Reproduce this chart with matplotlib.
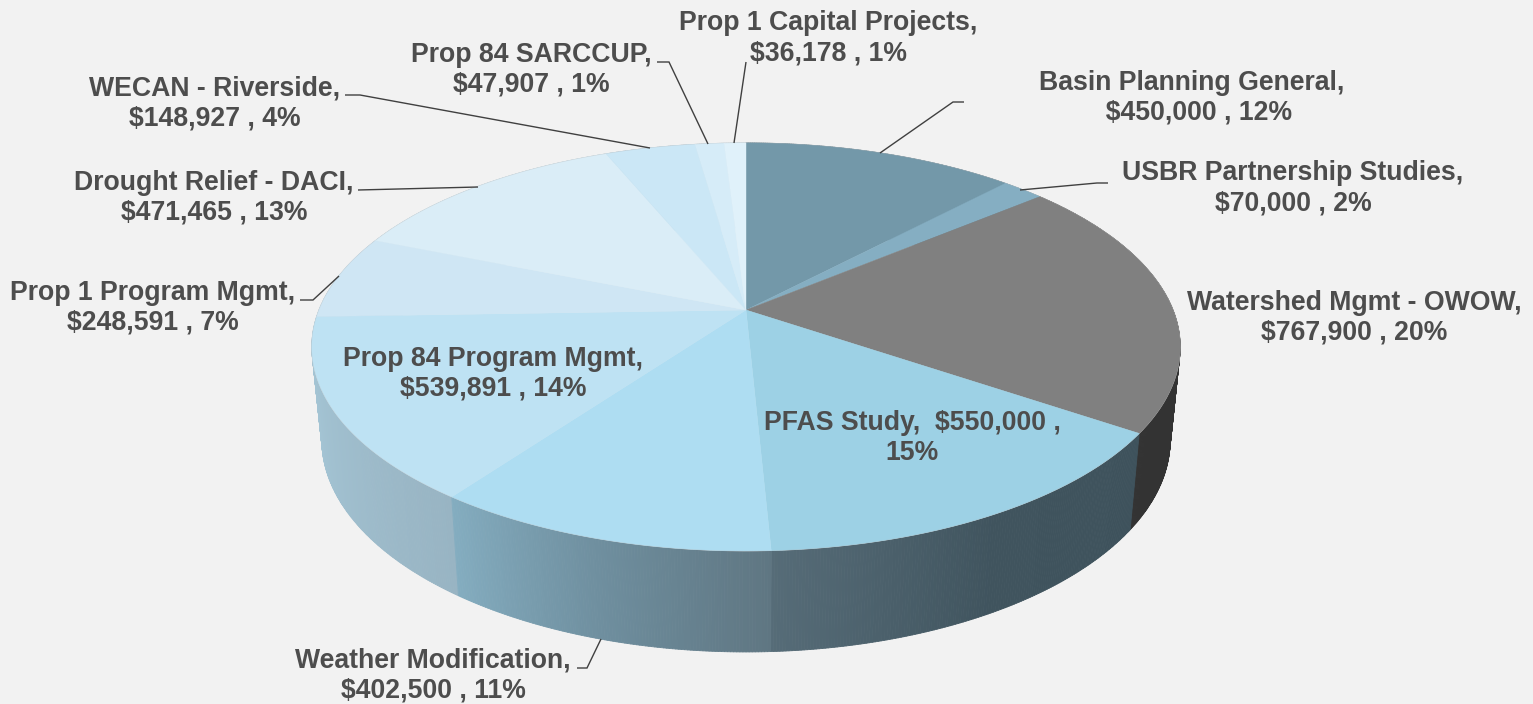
import numpy as np
import matplotlib
matplotlib.use("Agg")
import matplotlib.pyplot as plt
from matplotlib.collections import PolyCollection
from matplotlib.colors import to_rgb

categories = ["Basin Planning General", "USBR Partnership Studies", "Watershed Mgmt - OWOW",
              "PFAS Study", "Weather Modification", "Prop 84 Program Mgmt",
              "Prop 1 Program Mgmt", "Drought Relief - DACI", "WECAN - Riverside",
              "Prop 84 SARCCUP", "Prop 1 Capital Projects"]
values = [450000, 70000, 767900, 550000, 402500, 539891, 248591, 471465, 148927, 47907, 36178]
percents = [12, 2, 20, 15, 11, 14, 7, 13, 4, 1, 1]

top_colors = ["#7398A9", "#85AEC2", "#808080", "#9DD1E5", "#AEDDF2", "#BEE2F3",
              "#CFE6F4", "#DAEDF7", "#CBE7F6", "#D6ECF8", "#E0F1FA"]
side_stops = [["#5C7987", "#5C7987"], ["#6A8B9B", "#6A8B9B"], ["#333333", "#333333"],
              ["#3E525C", "#40545E", "#566C78"], ["#5F7682", "#6F8F9F", "#84ADC0"],
              ["#98B4C3", "#A8CADA"], ["#B2D0DE", "#B8D4E2"], ["#C0D8E4", "#C0D8E4"],
              ["#B0CCDA", "#B0CCDA"], ["#B8D0DC", "#B8D0DC"], ["#C0D8E4", "#C0D8E4"]]

label_x = [1192, 1293, 1354, 912, 433, 493, 153, 214, 215, 531, 828]
label_y = [97.5, 188.5, 317.5, 438.5, 675.5, 373.5, 307.5, 197.5, 103.5, 70, 38.5]
leaders = [[(880, 153), (953, 102), (964, 102)],
           [(1020, 190), (1097, 183), (1108, 183)],
           None, None,
           [(601, 639), (587, 668), (577, 668)],
           None,
           [(339, 276), (313, 300), (300, 300)],
           [(478, 187), (358, 190)],
           [(650, 148), (360, 95), (345, 95)],
           [(708, 144), (669, 62), (657, 62)],
           [(734, 143), (746, 62)]]

BG = "#F2F2F2"
TXT = "#4D4D4D"
CX, CY = 746.0, 310.0
A, B, K = 197.3, 427.0, 0.181

def project(theta):
    """theta measured clockwise from the top of the disc, radians."""
    u, v = np.sin(theta), np.cos(theta)
    d = 1 + K * v
    return CX + B * u / d, CY - A * v / d

def lower(x, y):
    return CX + (x - CX) * 0.977, 1.04 * y + 79.0

def gradient(stops, t):
    rgb = np.array([to_rgb(c) for c in stops])
    pos = np.linspace(0, 1, len(stops))
    return [np.interp(t, pos, rgb[:, i]) for i in range(3)]

fig = plt.figure(figsize=(15.33, 7.04), dpi=100, facecolor=BG)
ax = fig.add_axes([0, 0, 1, 1])
ax.set_xlim(0, 1533)
ax.set_ylim(704, 0)
ax.axis("off")

edges = np.concatenate([[0], np.cumsum(values)]) / np.sum(values) * 2 * np.pi

# side wall, back to front
quads, cols, depth = [], [], []
for i, stops in enumerate(side_stops):
    n = max(3, int((edges[i + 1] - edges[i]) / 0.006))
    th = np.linspace(edges[i], edges[i + 1], n + 1)
    x, y = project(th)
    xb, yb = lower(x, y)
    for j in range(n):
        quads.append([(x[j], y[j]), (x[j + 1], y[j + 1]), (xb[j + 1], yb[j + 1]), (xb[j], yb[j])])
        cols.append(gradient(stops, (j + 0.5) / n))
        depth.append(y[j])
order = np.argsort(depth)
ax.add_collection(PolyCollection([quads[k] for k in order], facecolors=[cols[k] for k in order],
                                 edgecolors=[cols[k] for k in order], linewidths=0.6, zorder=2))

# top face
th_all = np.linspace(0, 2 * np.pi, 720)
rx, ry = project(th_all)
ax.plot(rx, ry, color="#C4C4C4", lw=0.6, zorder=2.5)
for i, c in enumerate(top_colors):
    th = np.linspace(edges[i], edges[i + 1], 200)
    x, y = project(th)
    ax.fill(np.r_[CX, x], np.r_[CY, y], facecolor=c, edgecolor=c, lw=0.3, zorder=3)

# leader lines
for pts in leaders:
    if pts:
        ax.plot(*zip(*pts), color="#404040", lw=1.0, zorder=4, solid_capstyle="butt", solid_joinstyle="miter")

# labels
for i, name in enumerate(categories):
    if name == "PFAS Study":
        s = f"{name},  ${values[i]:,} ,\n{percents[i]}%"
    elif name == "Basin Planning General":
        s = f"{name},\n  ${values[i]:,} , {percents[i]}%"
    else:
        s = f"{name},\n${values[i]:,} , {percents[i]}%"
    ax.text(label_x[i], label_y[i], s, ha="center", va="center", color=TXT, zorder=5,
            fontfamily="Liberation Sans", fontweight="bold", fontsize=19.2, linespacing=1.2)

fig.savefig("out.png", dpi=100, facecolor=BG)
